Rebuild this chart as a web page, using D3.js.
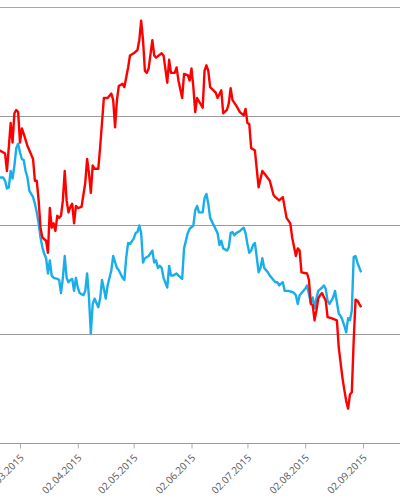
<!DOCTYPE html>
<html>
<head>
<meta charset="utf-8">
<script src="https://cdn.jsdelivr.net/npm/d3@7"></script>
<style>
  body { margin: 0; background: #fff; }
  svg { display: block; }
</style>
</head>
<body>
<div id="chartDiv"></div>
<script>

// red series
var redDates = ["2015-02-19","2015-02-22","2015-02-23","2015-02-25","2015-02-26","2015-02-27","2015-02-28","2015-03-01",
	"2015-03-02","2015-03-03","2015-03-04","2015-03-06","2015-03-07","2015-03-09","2015-03-10","2015-03-11","2015-03-12",
	"2015-03-13","2015-03-14","2015-03-16","2015-03-17","2015-03-18","2015-03-19","2015-03-20","2015-03-21","2015-03-22",
	"2015-03-23","2015-03-24","2015-03-25","2015-03-26","2015-03-27","2015-03-28","2015-03-29","2015-03-30","2015-03-31",
	"2015-04-01","2015-04-02","2015-04-04","2015-04-06","2015-04-07","2015-04-08","2015-04-09","2015-04-10","2015-04-11",
	"2015-04-13","2015-04-14","2015-04-16","2015-04-18","2015-04-19","2015-04-20","2015-04-21","2015-04-22","2015-04-23",
	"2015-04-24","2015-04-26","2015-04-27","2015-04-29","2015-04-30","2015-05-02","2015-05-04","2015-05-05","2015-05-06",
	"2015-05-07","2015-05-08","2015-05-09","2015-05-10","2015-05-12","2015-05-13","2015-05-14","2015-05-17","2015-05-18",
	"2015-05-20","2015-05-21","2015-05-22","2015-05-24","2015-05-25","2015-05-26","2015-05-28","2015-05-29","2015-05-31",
	"2015-06-01","2015-06-02","2015-06-03","2015-06-04","2015-06-05","2015-06-08","2015-06-09","2015-06-10","2015-06-11",
	"2015-06-12","2015-06-15","2015-06-16","2015-06-18","2015-06-19","2015-06-21","2015-06-22","2015-06-23","2015-06-24",
	"2015-06-26","2015-06-28","2015-06-30","2015-07-01","2015-07-02","2015-07-03","2015-07-04","2015-07-06","2015-07-08",
	"2015-07-10","2015-07-11","2015-07-14","2015-07-16","2015-07-17","2015-07-19","2015-07-21","2015-07-23","2015-07-25",
	"2015-07-26","2015-07-28","2015-07-29","2015-07-30","2015-07-31","2015-08-03","2015-08-04","2015-08-05","2015-08-06",
	"2015-08-07","2015-08-08","2015-08-09","2015-08-10","2015-08-11","2015-08-13","2015-08-14","2015-08-16","2015-08-19",
	"2015-08-20","2015-08-22","2015-08-23","2015-08-24","2015-08-25","2015-08-26","2015-08-27","2015-08-28","2015-08-29",
	"2015-08-30","2015-09-01"];
var redValues = [26.9,26.6,25.0,29.4,27.6,30.3,30.6,30.4,
	27.6,28.9,28.4,27.3,26.9,26.1,24.1,24.1,22.3,
	19.8,18.9,18.6,17.5,21.6,19.8,20.2,19.5,20.9,
	20.7,20.9,22.3,25.0,22.3,21.2,21.7,22.0,20.2,
	21.8,21.6,21.7,23.9,26.1,24.8,23.0,25.5,25.2,
	25.2,27.2,31.7,31.7,31.9,32.1,31.5,29.0,31.5,
	32.8,33.0,32.7,34.5,35.6,35.8,36.1,37.0,38.8,
	37.0,34.2,34.0,34.4,37.0,35.6,35.4,35.8,35.6,
	33.1,35.2,34.0,34.0,34.5,33.3,31.7,33.9,33.8,
	33.3,34.4,32.7,30.4,31.7,30.8,34.2,34.7,34.2,
	32.7,32.2,31.7,32.4,30.3,30.6,31.2,32.6,31.5,
	31.0,30.4,30.1,30.7,29.4,29.3,27.1,26.9,23.5,
	25.0,24.8,24.1,22.8,22.6,22.3,22.6,20.7,20.2,
	18.9,17.2,17.9,17.7,15.7,15.6,15.0,12.8,12.7,
	11.3,12.2,13.3,13.6,13.8,13.1,11.6,11.5,11.3,
	8.8,6.0,4.9,3.9,3.2,4.5,4.7,9.4,13.2,
	13.1,12.5];

// blue series
var blueDates = ["2015-02-19","2015-02-21","2015-02-22","2015-02-23","2015-02-24","2015-02-25","2015-02-26","2015-02-27",
	"2015-02-28","2015-03-01","2015-03-02","2015-03-03","2015-03-04","2015-03-05","2015-03-06","2015-03-07","2015-03-08",
	"2015-03-09","2015-03-10","2015-03-11","2015-03-12","2015-03-13","2015-03-14","2015-03-15","2015-03-16","2015-03-17",
	"2015-03-18","2015-03-19","2015-03-20","2015-03-22","2015-03-23","2015-03-24","2015-03-25","2015-03-26","2015-03-27",
	"2015-03-28","2015-03-29","2015-03-30","2015-03-31","2015-04-01","2015-04-02","2015-04-03","2015-04-05","2015-04-06",
	"2015-04-07","2015-04-08","2015-04-09","2015-04-10","2015-04-11","2015-04-13","2015-04-14","2015-04-15","2015-04-16",
	"2015-04-17","2015-04-18","2015-04-20","2015-04-21","2015-04-23","2015-04-24","2015-04-26","2015-04-27","2015-04-28",
	"2015-04-29","2015-04-30","2015-05-02","2015-05-03","2015-05-04","2015-05-05","2015-05-06","2015-05-07","2015-05-08",
	"2015-05-10","2015-05-12","2015-05-13","2015-05-14","2015-05-15","2015-05-16","2015-05-17","2015-05-18","2015-05-20",
	"2015-05-21","2015-05-22","2015-05-23","2015-05-25","2015-05-26","2015-05-28","2015-05-29","2015-05-31","2015-06-01",
	"2015-06-03","2015-06-04","2015-06-05","2015-06-06","2015-06-08","2015-06-09","2015-06-10","2015-06-11","2015-06-12",
	"2015-06-14","2015-06-16","2015-06-17","2015-06-18","2015-06-19","2015-06-21","2015-06-22","2015-06-23","2015-06-24",
	"2015-06-25","2015-06-26","2015-06-28","2015-06-30","2015-07-01","2015-07-02","2015-07-03","2015-07-04","2015-07-05",
	"2015-07-06","2015-07-07","2015-07-08","2015-07-09","2015-07-10","2015-07-11","2015-07-13","2015-07-14","2015-07-16",
	"2015-07-17","2015-07-18","2015-07-19","2015-07-21","2015-07-22","2015-07-24","2015-07-26","2015-07-27","2015-07-28",
	"2015-07-29","2015-07-30","2015-08-02","2015-08-03","2015-08-05","2015-08-06","2015-08-07","2015-08-08","2015-08-09",
	"2015-08-11","2015-08-12","2015-08-13","2015-08-14","2015-08-15","2015-08-17","2015-08-18","2015-08-20","2015-08-21",
	"2015-08-22","2015-08-23","2015-08-24","2015-08-25","2015-08-26","2015-08-27","2015-08-28","2015-08-29","2015-08-30",
	"2015-09-01"];
var blueValues = [24.4,24.4,24.1,23.4,23.5,25.0,24.3,25.5,
	27.1,27.5,26.7,26.1,26.0,25.0,24.4,23.2,22.9,
	22.6,22.0,21.2,20.2,18.9,18.0,17.4,17.0,15.6,
	16.8,15.4,15.2,15.1,15.0,13.8,15.2,17.2,15.2,
	14.8,15.0,15.1,14.0,15.2,14.3,13.8,13.6,14.0,
	15.6,13.4,10.1,12.8,13.3,12.5,13.3,15.0,14.2,
	13.3,14.5,15.9,17.2,16.1,15.9,15.2,15.0,17.1,
	18.4,18.3,18.8,19.3,19.4,20.0,19.3,16.6,17.0,
	17.2,17.7,16.6,16.8,16.1,16.3,16.1,15.2,14.3,
	16.3,15.4,15.4,15.6,15.4,15.1,17.9,19.3,19.7,
	20.0,21.4,21.8,21.2,21.2,22.5,22.9,22.0,20.7,
	20.0,19.3,18.2,18.6,17.9,17.7,18.0,19.3,19.4,
	19.1,19.3,19.5,19.8,19.3,18.3,17.5,17.7,18.2,
	18.4,17.1,15.7,16.1,17.0,16.1,15.7,15.4,15.0,
	14.8,14.8,14.5,14.8,14.0,14.0,13.9,13.8,13.6,
	12.8,13.6,14.2,14.5,12.9,13.4,12.4,13.3,14.0,
	14.3,14.5,14.2,13.1,12.8,13.4,14.0,11.9,11.7,
	11.3,10.8,10.2,11.5,11.3,12.2,17.1,17.2,16.6,
	15.7];

var tickDates = ["2015-03-02","2015-04-02","2015-05-02","2015-06-02","2015-07-02","2015-08-02","2015-09-02"];
var gridValues = [0, 10, 20, 30, 40];

var wd = 400, ht = 500;
var parseDate = d3.timeParse("%Y-%m-%d");
var fmtDate = d3.timeFormat("%d.%m.%Y");

var x = d3.scaleTime()
	.domain([parseDate("2015-03-02"), parseDate("2015-09-02")])
	.range([20, 363]);

var y = d3.scaleLinear()
	.domain([0, 40])
	.range([443.5, 7.5]);

var svg = d3.select('#chartDiv')
	.append("svg")
	.attr("width", wd)
	.attr("height", ht);

// horizontal gridlines
svg.selectAll('.grid')
	.data(gridValues.filter(function (d) { return d > 0; }))
	.enter()
	.append('line')
	.attr('class', 'grid')
	.attr('x1', 0)
	.attr('x2', wd)
	.attr('y1', function (d) { return y(d); })
	.attr('y2', function (d) { return y(d); })
	.attr('stroke', function (d) { return d === 40 ? '#a6a6a6' : '#9a9a9a'; })
	.attr('stroke-width', 1.2);

// x axis
var xAxis = d3.axisBottom(x)
	.tickValues(tickDates.map(parseDate))
	.tickFormat(fmtDate)
	.tickSize(5)
	.tickSizeOuter(0);

var gx = svg.append('g')
	.attr('transform', 'translate(0,' + y(0) + ')')
	.call(xAxis);

gx.select('.domain').remove();
gx.append('line')
	.attr('x1', 0)
	.attr('x2', wd)
	.attr('stroke', '#9a9a9a')
	.attr('stroke-width', 1.2);

gx.selectAll('.tick line')
	.attr('stroke', '#b0b0b0');

gx.selectAll('.tick text')
	.attr('font-family', '"Open Sans", sans-serif')
	.attr('font-size', '10px')
	.attr('fill', '#595959')
	.attr('text-anchor', 'end')
	.attr('x', 0)
	.attr('y', 0)
	.attr('dy', 0)
	.attr('transform', 'translate(4,15) rotate(-45)');

// lines
var line = d3.line()
	.x(function (d) { return x(d.date); })
	.y(function (d) { return y(d.value); });

var redData = redDates.map(function (d, i) { return {date: parseDate(d), value: redValues[i]}; });
var blueData = blueDates.map(function (d, i) { return {date: parseDate(d), value: blueValues[i]}; });

svg.append('path')
	.datum(blueData)
	.attr('d', line)
	.attr('fill', 'none')
	.attr('stroke', '#19aeea')
	.attr('stroke-width', 2.4)
	.attr('stroke-linejoin', 'round');

svg.append('path')
	.datum(redData)
	.attr('d', line)
	.attr('fill', 'none')
	.attr('stroke', '#ff0000')
	.attr('stroke-width', 2.4)
	.attr('stroke-linejoin', 'round');

</script>
</body>
</html>
